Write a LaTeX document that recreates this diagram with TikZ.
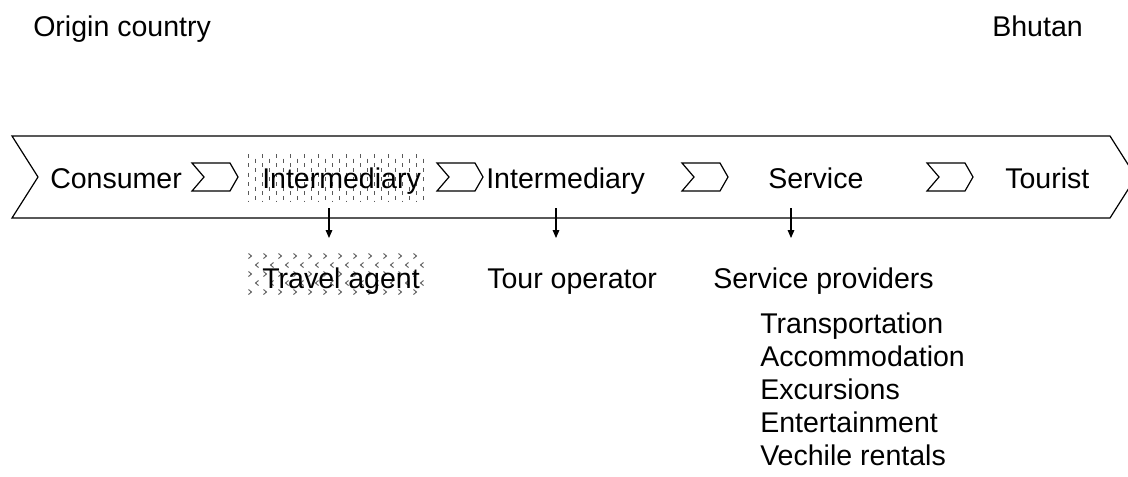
\documentclass[tikz,border=0pt]{standalone}
\usepackage{fontspec}
\setmainfont{Liberation Sans}
\usetikzlibrary{arrows.meta}
\begin{document}
\begin{tikzpicture}[x=0.75pt,y=-0.75pt]
	\tikzset{lbl/.style = {anchor=base west, inner sep=0pt, font=\fontsize{21.4}{24.6}\selectfont}}
	\tikzset{edge/.style = {-{Triangle[length=6pt,width=5pt]}, line width=0.8pt}}
	\tikzset{chev/.style = {draw, fill=white, line width=0.9pt, line join=miter}}
	\tikzset{dots/.style = {black!65, line width=0.7pt}}
	
	\useasboundingbox (0,0) rectangle (1128,476);
	
	% long chevron, its tip runs off the page
	\begin{scope}
		\clip (0,0) rectangle (1128,476);
		\draw[chev] (12,136) -- (1110,136) -- (1136,177) -- (1110,218) -- (12,218) -- (38,177) -- cycle;
	\end{scope}
	
	% small chevrons
	\foreach \x in {192,437,682,927}
		\draw[chev] (\x,163) -- (\x+38,163) -- (\x+46,177) -- (\x+38,191) -- (\x,191) -- (\x+12,177) -- cycle;
	
	% shading behind the first intermediary
	\foreach \x [count=\i] in {248,255,...,426} {
		\ifodd\i
			\draw[dots, dash pattern=on 3pt off 4pt] (\x,154) -- (\x,201);
		\else
			\draw[dots, dash pattern=on 3pt off 4pt, dash phase=3.5pt] (\x,154) -- (\x,201);
		\fi
	}
	
	% shading behind the travel agent
	\foreach \y [count=\j] in {256,265,...,292} {
		\foreach \x in {250,265,...,418} {
			\ifodd\j
				\draw[dots] (\x-1.5,\y-2.5) -- (\x+1.5,\y) -- (\x-1.5,\y+2.5);
			\else
				\draw[dots] (\x+7+1.5,\y-2.5) -- (\x+7-1.5,\y) -- (\x+7+1.5,\y+2.5);
			\fi
		}
	}
	
	\node[lbl]  (origin) at (  33,   36) {Origin country};
	\node[lbl, anchor=base east] (bhutan) at (1083,   36) {Bhutan};
	
	\node[lbl]  (consumer) at (  50,  188) {Consumer};
	\node[lbl]  (inter1)   at ( 262,  188) {Intermediary};
	\node[lbl]  (inter2)   at ( 486,  188) {Intermediary};
	\node[lbl]  (service)  at ( 768,  188) {Service};
	\node[lbl]  (tourist)  at (1005,  188) {Tourist};
	
	\node[lbl]  (agent)     at ( 262,  288) {Travel agent};
	\node[lbl]  (operator)  at ( 487,  288) {Tour operator};
	\node[lbl]  (providers) at ( 713,  288) {Service providers};
	
	\node[lbl]  (transport) at ( 760,  333) {Transportation};
	\node[lbl]  (accom)     at ( 760,  366) {Accommodation};
	\node[lbl]  (excur)     at ( 760,  399) {Excursions};
	\node[lbl]  (enter)     at ( 760,  432) {Entertainment};
	\node[lbl]  (rental)    at ( 760,  465) {Vechile rentals};
	
	\coordinate (s1) at (329,208);
	\coordinate (e1) at (329,238);
	\coordinate (s2) at (556,208);
	\coordinate (e2) at (556,238);
	\coordinate (s3) at (791,208);
	\coordinate (e3) at (791,238);
	
	\draw[edge] (s1) to (e1);
	\draw[edge] (s2) to (e2);
	\draw[edge] (s3) to (e3);
\end{tikzpicture}
\end{document}
